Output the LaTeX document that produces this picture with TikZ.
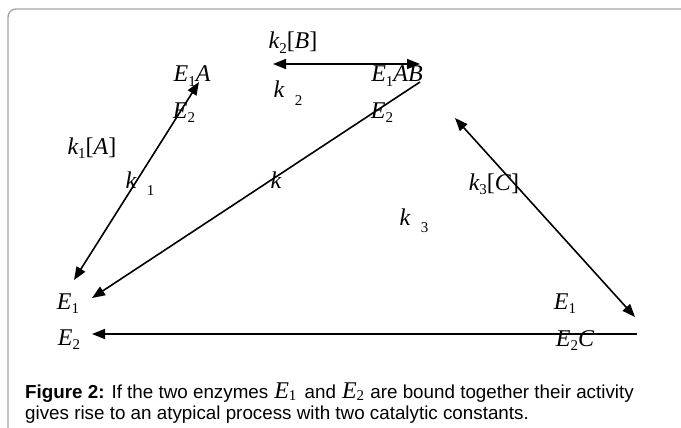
\documentclass[tikz,border=0pt]{standalone}
\usepackage{fontspec}
\setmainfont{Liberation Serif}
\newfontfamily\capfont{Liberation Sans}
\usetikzlibrary{arrows.meta}
\newcommand{\sbx}[2][-0.18em]{\raisebox{#1}{\upshape\fontsize{15}{15}\selectfont #2}}
\newcommand{\enz}[1]{{\rmfamily\fontsize{24}{24}\selectfont\itshape E\sbx[-0.12em]{#1}}}

\begin{document}
\begin{tikzpicture}[x=1pt, y=-1pt,
  lbl/.style={font=\fontsize{24}{28}\selectfont\itshape, inner sep=0pt, anchor=base},
  captxt/.style={font=\capfont\fontsize{18.8}{22}\selectfont, inner sep=0pt, anchor=base west},
  rxn/.style={line width=1.6pt, >={Triangle[length=13pt,width=10pt]}}
]
  \useasboundingbox (0,0) rectangle (681,428);
  % panel frame
  \draw[gray!70, line width=1.4pt, rounded corners=8pt] (8,428) -- (8,9) -- (681,9);

  % species
  \node[lbl] (e1a) at (192,82) {E\sbx{1}A};
  \node[lbl] (e2a) at (184,118) {E\sbx{2}};
  \node[lbl] (e1ab) at (397,82) {E\sbx{1}AB};
  \node[lbl] (e2b) at (382,118) {E\sbx{2}};
  \node[lbl] (e1l) at (68,309) {E\sbx{1}};
  \node[lbl] (e2l) at (69,345) {E\sbx{2}};
  \node[lbl] (e1r) at (565,309) {E\sbx{1}};
  \node[lbl] (e2c) at (575,346) {E\sbx{2}C};

  % rate constants
  \node[lbl] (k2B) at (293,49) {k\sbx{2}\textup{[}B\textup{]}};
  \node[lbl] (k2) at (288,98) {k\hspace{0.45em}\sbx[-0.3em]{2}};
  \node[lbl] (k1A) at (92,154) {k\sbx{1}\textup{[}A\textup{]}};
  \node[lbl] (k1) at (140,188) {k\hspace{0.45em}\sbx[-0.3em]{1}};
  \node[lbl] (kk) at (276,189) {k};
  \node[lbl] (k3C) at (494,190) {k\sbx{3}\textup{[}C\textup{]}};
  \node[lbl] (k3) at (414,225) {k\hspace{0.45em}\sbx[-0.3em]{3}};

  % arrow ends
  \coordinate (a1) at (74,280);
  \coordinate (a2) at (199,82);
  \coordinate (b1) at (273,64);
  \coordinate (b2) at (420,64);
  \coordinate (c1) at (420,82);
  \coordinate (c2) at (92,298);
  \coordinate (d1) at (455,118);
  \coordinate (d2) at (635,317);
  \coordinate (f1) at (637,334);
  \coordinate (f2) at (92,334);

  \draw[rxn, <->] (a1) -- (a2);
  \draw[rxn, <->] (b1) -- (b2);
  \draw[rxn, ->] (c1) -- (c2);
  \draw[rxn, <->] (d1) -- (d2);
  \draw[rxn, ->] (f1) -- (f2);

  % caption
  \node[captxt] (cap1) at (25,398) {\textbf{Figure 2:} If the two enzymes\hspace{6pt}\enz{1}\hspace{3pt} and\hspace{6pt}\enz{2}\hspace{1pt} are bound together their activity};
  \node[captxt] (cap2) at (25,419) {gives rise to an atypical process with two catalytic constants.};
\end{tikzpicture}
\end{document}
